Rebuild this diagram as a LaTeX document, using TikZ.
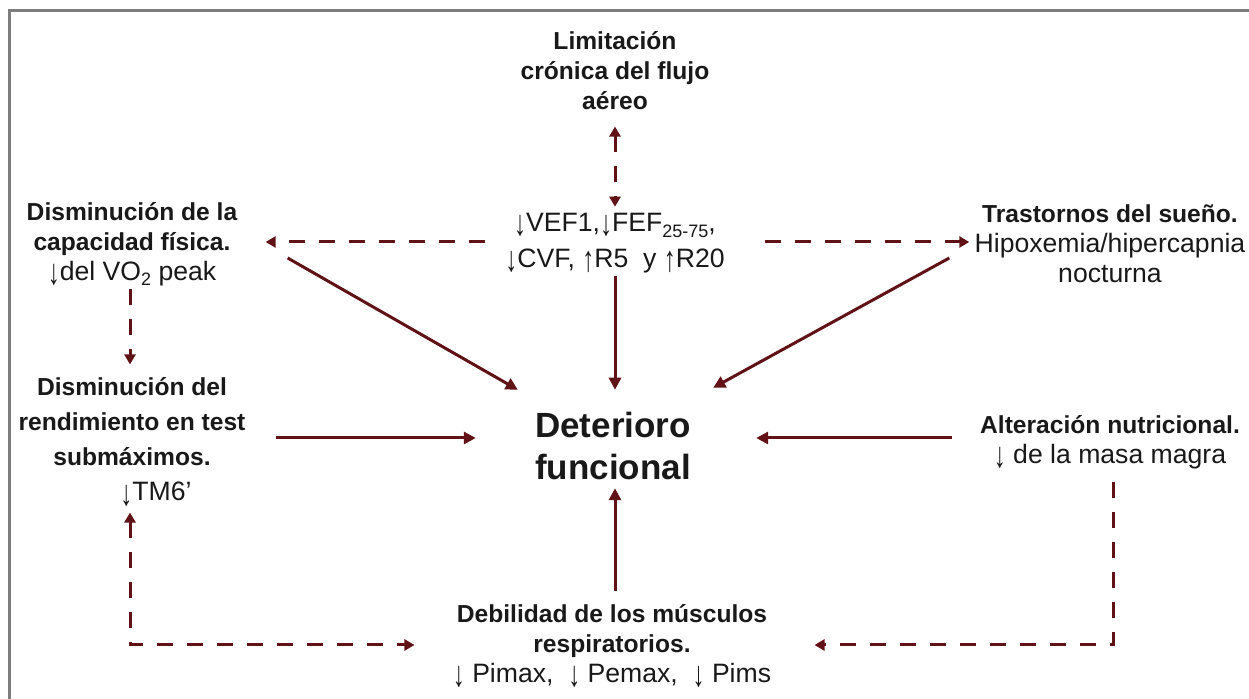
\documentclass[tikz,border=0pt]{standalone}
\usepackage{fontspec}
\usepackage{graphicx}
\setmainfont{Liberation Sans}
\usetikzlibrary{arrows.meta,calc}
\definecolor{arr}{RGB}{96,18,22}
\definecolor{txt}{RGB}{25,25,25}
\definecolor{frm}{RGB}{125,125,125}
\newcommand{\lowsub}[1]{\raisebox{-0.4ex}{\fontsize{9}{9}\selectfont #1}}
\newcommand{\dnarr}{\raisebox{-0.3ex}{\scalebox{0.9}[1.35]{↓}}}
\newcommand{\uparr}{\raisebox{-0.3ex}{\scalebox{0.9}[1.35]{↑}}}
\newcommand{\bld}{\fontsize{12.3}{15}\selectfont\bfseries}
\tikzset{
  lbl/.style={inner sep=0pt, align=center, text=txt, font=\fontsize{13.3}{15}\selectfont},
  big/.style={inner sep=0pt, align=center, text=txt, font=\fontsize{17.5}{21}\selectfont\bfseries},
  sol/.style={draw=arr, line width=1.5pt, -{Triangle[length=6pt,width=6pt]}},
  dsh/.style={draw=arr, line width=1.5pt, dash pattern=on 8pt off 7pt, -{Triangle[length=5pt,width=5.5pt]}},
  dshb/.style={dsh, {Triangle[length=5pt,width=5.5pt]}-{Triangle[length=5pt,width=5.5pt]}},
  frame/.style={draw=frm, line width=1.5pt}
}
\begin{document}
\begin{tikzpicture}[x=0.5pt,y=-0.5pt]
\useasboundingbox (0,0) rectangle (1249,699);
\fill[white] (0,0) rectangle (1249,699);
\draw[frame] (9,699) -- (9,11) -- (1249,11);

\node[lbl] (lim) at (615,71) {\bld Limitación\\\bld crónica del flujo\\\bld aéreo};
\node[lbl] (vef) at (615,243) {\dnarr VEF1,\dnarr FEF\lowsub{25-75},\\[3pt]\dnarr CVF, \uparr R5\ \ y \uparr R20};
\node[lbl] (cap) at (132,244) {\bld Disminución de la\\\bld capacidad física.\\\dnarr del VO\lowsub{2} peak};
\node[lbl] (sue) at (1110,244) {\bld Trastornos del sueño.\\Hipoxemia/hipercapnia\\nocturna};
\node[big] (det) at (613,446) {Deterioro\\funcional};
\node[lbl, font=\fontsize{13.3}{17.5}\selectfont] (ren) at (132,442) {\bld Disminución del\\\bld rendimiento en test\\\bld submáximos.\\\hspace*{24pt}\dnarr TM6'};
\node[lbl] (alt) at (1110,442) {\bld Alteración nutricional.\\\dnarr\ de la masa magra};
\node[lbl] (deb) at (612,646) {\bld Debilidad de los músculos\\\bld respiratorios.\\\dnarr\ Pimax,\ \ \dnarr\ Pemax,\ \ \dnarr\ Pims};

% connectors
\draw[dshb] ($(lim.south)+(0,16)$) -- ($(vef.north)+(0,-6)$);
\draw[sol] ($(vef.south)+(0,3)$) -- ($(det.north)+(2,-22)$);
\draw[dsh] ($(vef.west)+(-20,-1)$) -- ($(cap.east)+(28,-2)$);
\draw[dsh] ($(vef.east)+(40,-1)$) -- ($(sue.west)+(-5,-2)$);
\draw[sol] ($(cap.east)+(50,14)$) -- ($(det.north west)+(-17,-22)$);
\draw[sol] ($(sue.west)+(-25,14)$) -- ($(det.north east)+(22,-24)$);
\draw[sol] ($(ren.east)+(30,-4)$) -- ($(det.west)+(-59,-8)$);
\draw[sol] ($(alt.west)+(-28,-4)$) -- ($(det.east)+(65,-8)$);
\draw[sol] ($(deb.north)+(3,-13)$) -- ($(det.south)+(2,8)$);
\draw[dsh] ($(cap.south)+(-2,3)$) -- ($(ren.north)+(-2,-13)$);
\draw[dshb] ($(ren.south)+(-2,6)$) |- ($(deb.west)+(-38,-1)$);
\draw[dsh] ($(alt.south)+(3,13)$) |- ($(deb.east)+(43,-1)$);
\end{tikzpicture}
\end{document}
